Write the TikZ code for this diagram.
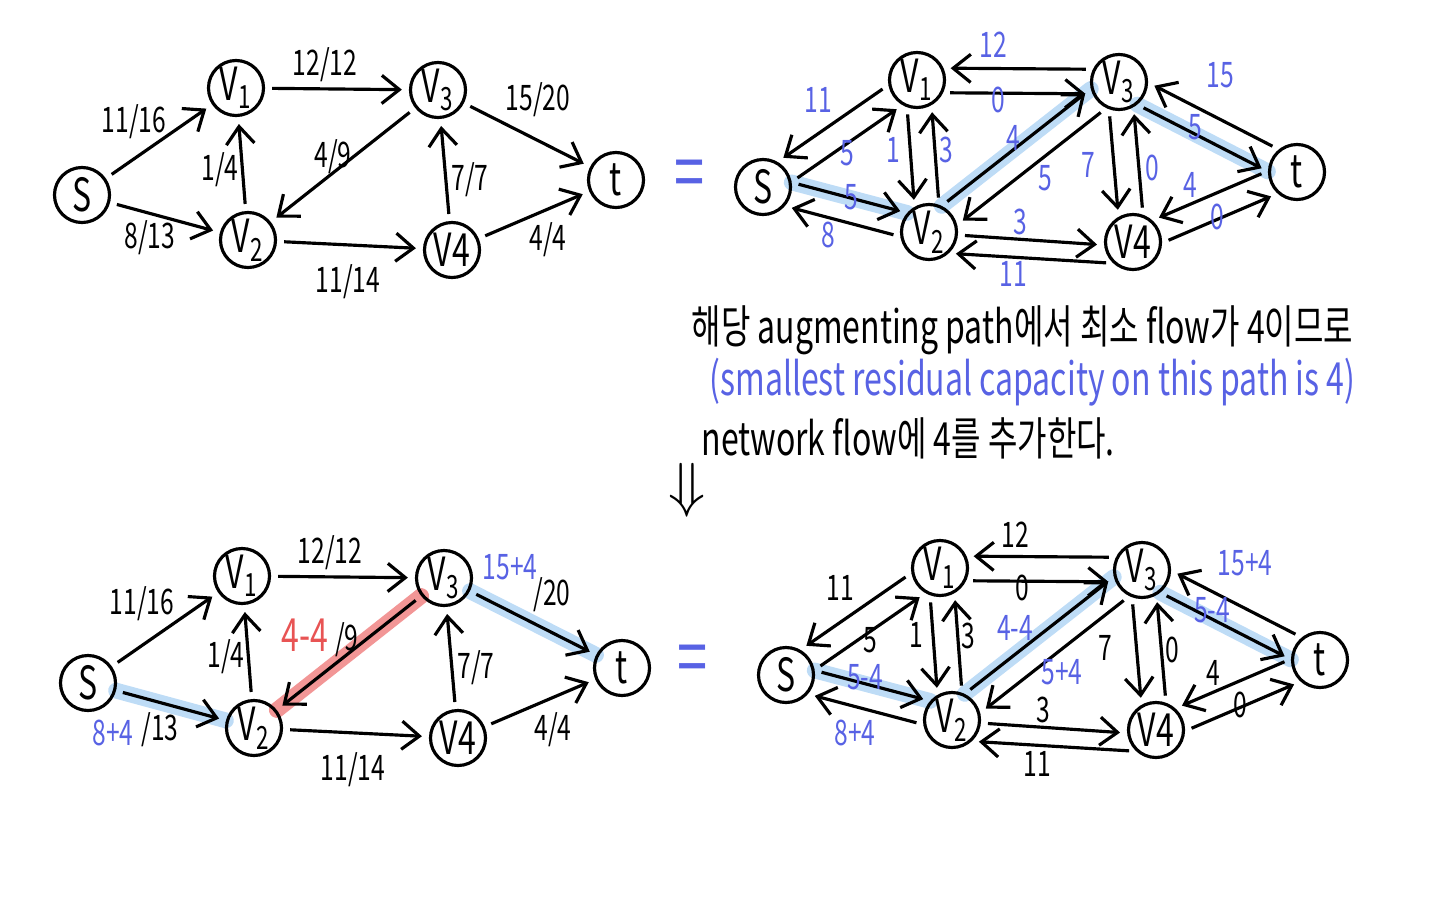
\documentclass[tikz,border=0pt]{standalone}
\usepackage{fontspec}
\setmainfont{Noto Sans CJK KR}[FakeStretch=0.7]
\usetikzlibrary{arrows.meta,backgrounds}

\definecolor{penblue}{RGB}{88,98,228}
\definecolor{penred}{RGB}{232,84,84}
\definecolor{hlblue}{RGB}{190,220,246}
\definecolor{hlred}{RGB}{242,150,150}

% the six vertices of one network, shifted by (#2,#3)
\newcommand\netnodes[3]{%
  \begin{scope}[shift={(#2,#3)}]
  \node (#1-s) [vert] at (82,195) {S};
  \node (#1-v1) [vert] at (236,88) {V\textsubscript{1}};
  \node (#1-v2) [vert] at (248,240) {V\textsubscript{2}};
  \node (#1-v3) [vert] at (438,90) {V\textsubscript{3}};
  \node (#1-v4) [vert] at (452,250) {V4};
  \node (#1-t) [vert] at (616,180) {t};
  \end{scope}}

\begin{document}
\begin{tikzpicture}[x=0.01cm, y=-0.01cm, line width=0.9pt,
  vert/.style={circle, draw, minimum size=0.55cm, inner sep=0pt, font=\fontsize{13}{13}\selectfont},
  arr/.style={-{Straight Barb[length=5pt,width=8pt]}, shorten <=2pt, shorten >=2pt},
  lbl/.style={font=\fontsize{10}{10}\selectfont, inner sep=1pt},
  blbl/.style={lbl, text=penblue},
  rlbl/.style={lbl, text=penred, font=\fontsize{13}{13}\selectfont},
  hlb/.style={line width=4.5pt, hlblue, line cap=round},
  hlr/.style={line width=4.5pt, hlred, line cap=round},
  note/.style={font=\fontsize{13}{13}\selectfont, anchor=west, inner sep=0pt}]
\useasboundingbox (0,0) rectangle (1440,900);

\netnodes{f}{0}{0}
\netnodes{r}{681}{-8}
\netnodes{g}{6}{488}
\netnodes{u}{704}{480}

% flow networks
\foreach \a/\b in {s/v1, s/v2, v1/v3, v2/v1, v3/v2, v2/v4, v4/v3, v3/t, v4/t} {
  \draw[arr] (f-\a) -- (f-\b);
  \draw[arr] (g-\a) -- (g-\b);
}
% residual networks
\foreach \a/\aa/\b/\bb in {v1/190/s/60, s/10/v1/240, s/9/v2/139, v2/189/s/319,
    v1/250/v2/120, v2/70/v1/300, v3/154/v1/24, v1/334/v3/204,
    v2/64/v3/194, v3/244/v2/14, v2/354/v4/186, v4/227/v2/313,
    v3/250/v4/120, v4/70/v3/300, t/129/v3/359, v3/309/t/179,
    t/178/v4/48, v4/358/t/228} {
  \draw[arr] (r-\a.\aa) -- (r-\b.\bb);
  \draw[arr] (u-\a.\aa) -- (u-\b.\bb);
}

% augmenting path
\begin{scope}[on background layer]
\foreach \n in {r, u} {
  \draw[hlb] (\n-s.9) -- (\n-v2.139);
  \draw[hlb] (\n-v2.64) -- (\n-v3.194);
  \draw[hlb] (\n-v3.309) -- (\n-t.179);
}
\draw[hlb] (g-s) -- (g-v2);
\draw[hlr] (g-v3) -- (g-v2);
\draw[hlb] (g-v3) -- (g-t);
\end{scope}

% labels, first network
\node (f-l1) [lbl] at (134,122) {11/16};
\node (f-l2) [lbl] at (150,238) {8/13};
\node (f-l3) [lbl] at (325,65) {12/12};
\node (f-l4) [lbl] at (220,170) {1/4};
\node (f-l5) [lbl] at (333,157) {4/9};
\node (f-l6) [lbl] at (348,282) {11/14};
\node (f-l7) [lbl] at (470,180) {7/7};
\node (f-l8) [lbl] at (538,100) {15/20};
\node (f-l9) [lbl] at (548,240) {4/4};

% labels, first residual network
\node (r-l1) [blbl] at (818,100) {11};
\node (r-l2) [blbl] at (847,153) {5};
\node (r-l3) [blbl] at (851,197) {5};
\node (r-l4) [blbl] at (828,235) {8};
\node (r-l5) [blbl] at (893,150) {1};
\node (r-l6) [blbl] at (946,150) {3};
\node (r-l7) [blbl] at (993,45) {12};
\node (r-l8) [blbl] at (998,100) {0};
\node (r-l9) [blbl] at (1013,138) {4};
\node (r-l10) [blbl] at (1045,178) {5};
\node (r-l11) [blbl] at (1088,165) {7};
\node (r-l12) [blbl] at (1152,168) {0};
\node (r-l13) [blbl] at (1220,75) {15};
\node (r-l14) [blbl] at (1195,127) {5};
\node (r-l15) [blbl] at (1020,222) {3};
\node (r-l16) [blbl] at (1013,274) {11};
\node (r-l17) [blbl] at (1190,185) {4};
\node (r-l18) [blbl] at (1217,217) {0};

% labels, updated network
\node (g-l1) [lbl] at (142,604) {11/16};
\node (g-l2a) [blbl] at (113,733) {8+4};
\node (g-l2b) [lbl] at (160,730) {/13};
\node (g-l3) [lbl] at (330,553) {12/12};
\node (g-l4) [lbl] at (226,657) {1/4};
\node (g-l5a) [rlbl] at (305,635) {4-4};
\node (g-l5b) [lbl] at (347,640) {/9};
\node (g-l6) [lbl] at (353,770) {11/14};
\node (g-l7) [lbl] at (476,668) {7/7};
\node (g-l8a) [blbl] at (510,567) {15+4};
\node (g-l8b) [lbl] at (552,595) {/20};
\node (g-l9) [lbl] at (553,730) {4/4};

% labels, updated residual network
\node (u-l1) [lbl] at (840,588) {11};
\node (u-l2) [lbl] at (870,640) {5};
\node (u-l3) [blbl] at (865,677) {5-4};
\node (u-l4) [blbl] at (855,733) {8+4};
\node (u-l5) [lbl] at (916,635) {1};
\node (u-l6) [lbl] at (968,636) {3};
\node (u-l7) [lbl] at (1015,535) {12};
\node (u-l8) [lbl] at (1022,588) {0};
\node (u-l9) [blbl] at (1015,628) {4-4};
\node (u-l10) [blbl] at (1062,672) {5+4};
\node (u-l11) [lbl] at (1105,648) {7};
\node (u-l12) [lbl] at (1172,650) {0};
\node (u-l13) [blbl] at (1245,563) {15+4};
\node (u-l14) [blbl] at (1212,610) {5-4};
\node (u-l15) [lbl] at (1043,710) {3};
\node (u-l16) [lbl] at (1037,764) {11};
\node (u-l17) [lbl] at (1213,673) {4};
\node (u-l18) [lbl] at (1240,705) {0};

% equals signs and explanation
\node (eq1) [text=penblue, font=\fontsize{22}{22}\selectfont] at (690,180) {=};
\node (eq2) [text=penblue, font=\fontsize{22}{22}\selectfont] at (693,665) {=};
\node (line1) [note] at (690,330) {해당 augmenting path에서 최소 flow가 4이므로};
\node (line2) [note, text=penblue] at (708,382) {(smallest residual capacity on this path is 4)};
\node (line3) [note] at (700,438) {network flow에 4를 추가한다.};
\node (down) [font=\fontsize{18}{18}\selectfont] at (687,490) {$\Downarrow$};
\end{tikzpicture}
\end{document}
